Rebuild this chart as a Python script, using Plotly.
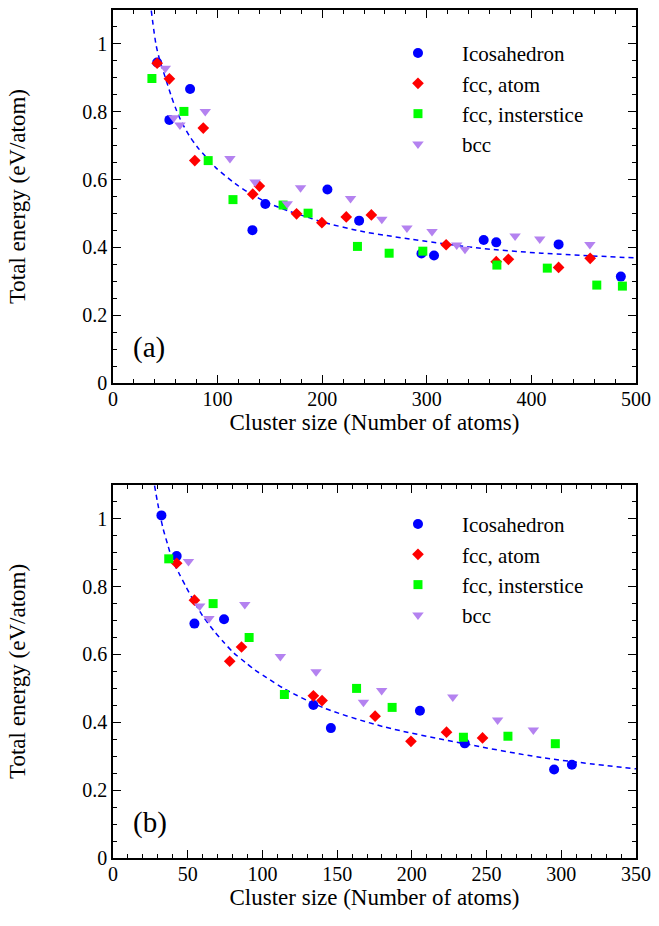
import plotly.graph_objects as go

# ---------------- Panel (a) data ----------------
a_ico_x = [42.2, 53.9, 73.7, 133.3, 145.6, 205.0, 235.3, 294.9, 306.9, 354.4, 366.4, 426.0, 485.5]
a_ico_y = [0.945, 0.776, 0.867, 0.451, 0.528, 0.571, 0.479, 0.382, 0.376, 0.422, 0.415, 0.409, 0.314]

a_fcc_x = [42.2, 53.9, 78.2, 86.3, 133.6, 139.9, 175.5, 199.7, 223.0, 247.0, 318.5, 366.4, 378.0, 426.0, 456.2]
a_fcc_y = [0.943, 0.897, 0.656, 0.752, 0.557, 0.581, 0.499, 0.473, 0.490, 0.496, 0.408, 0.358, 0.365, 0.341, 0.368]

a_int_x = [37.2, 67.8, 91.0, 114.7, 162.6, 186.5, 233.7, 264.0, 296.2, 367.0, 415.2, 462.5, 487.0]
a_int_y = [0.898, 0.801, 0.656, 0.541, 0.525, 0.501, 0.403, 0.383, 0.389, 0.348, 0.339, 0.289, 0.286]

a_bcc_x = [50.0, 58.0, 64.0, 88.2, 111.8, 135.8, 166.6, 179.3, 227.1, 257.0, 281.0, 305.0, 328.6, 336.5, 384.4, 408.0, 455.9]
a_bcc_y = [0.928, 0.782, 0.761, 0.801, 0.662, 0.593, 0.529, 0.576, 0.544, 0.483, 0.457, 0.447, 0.407, 0.395, 0.434, 0.425, 0.409]

a_fit_x = [36.6, 41.3, 45.1, 50.1, 55.5, 60.2, 64.9, 72.8, 80.6, 87.9, 98.0, 116.9, 129.5, 148.4,
           167.3, 186.2, 200.0, 239.8, 261.8, 283.8, 346.9, 410.0, 500.0]
a_fit_y = [1.098, 0.995, 0.948, 0.900, 0.848, 0.808, 0.774, 0.730, 0.696, 0.670, 0.636, 0.588, 0.562, 0.531,
           0.508, 0.489, 0.475, 0.446, 0.435, 0.425, 0.399, 0.383, 0.369]

# ---------------- Panel (b) data ----------------
b_ico_x = [32.4, 42.6, 54.5, 74.3, 134.1, 145.8, 205.4, 235.4, 295.2, 307.1]
b_ico_y = [1.010, 0.890, 0.691, 0.704, 0.451, 0.383, 0.434, 0.338, 0.261, 0.275]

b_fcc_x = [42.6, 54.5, 78.1, 86.0, 134.1, 139.9, 175.4, 199.4, 223.2, 247.3]
b_fcc_y = [0.869, 0.760, 0.580, 0.622, 0.478, 0.464, 0.418, 0.344, 0.371, 0.354]

b_int_x = [37.3, 67.0, 91.1, 114.7, 163.0, 186.8, 234.5, 264.3, 296.0]
b_int_y = [0.882, 0.750, 0.650, 0.482, 0.500, 0.444, 0.356, 0.359, 0.337]

b_bcc_x = [50.5, 58.0, 64.2, 88.2, 112.0, 135.9, 167.6, 179.8, 227.4, 257.4, 281.3]
b_bcc_y = [0.874, 0.743, 0.706, 0.747, 0.594, 0.549, 0.459, 0.494, 0.475, 0.407, 0.377]

b_fit_x = [27.8, 30.0, 33.3, 36.6, 39.9, 44.3, 48.8, 53.1, 59.8, 67.5, 74.1, 80.7, 88.5, 95.1, 102.8,
           115.0, 141.4, 181.1, 231.8, 287.0, 350.0]
b_fit_y = [1.098, 1.044, 0.975, 0.924, 0.877, 0.838, 0.800, 0.765, 0.715, 0.670, 0.636, 0.605, 0.577, 0.554, 0.532,
           0.498, 0.442, 0.387, 0.340, 0.296, 0.263]

names = ["Icosahedron", "fcc, atom", "fcc, insterstice", "bcc"]
colors = ["#0000ff", "#ff0000", "#00ff00", "#b482f0"]
symbols = ["circle", "diamond", "square", "triangle-down"]
sizes = [10, 9, 9, 10]

x_title = "Cluster size (Number of atoms)"
y_title = "Total energy (eV/atom)"

FONT = "Liberation Serif"

fig = go.Figure()

panels = [
    ("x", "y", "legend", [(a_ico_x, a_ico_y), (a_fcc_x, a_fcc_y), (a_int_x, a_int_y), (a_bcc_x, a_bcc_y)], (a_fit_x, a_fit_y)),
    ("x2", "y2", "legend2", [(b_ico_x, b_ico_y), (b_fcc_x, b_fcc_y), (b_int_x, b_int_y), (b_bcc_x, b_bcc_y)], (b_fit_x, b_fit_y)),
]

for xa, ya, leg, series, fit in panels:
    fig.add_trace(go.Scatter(x=fit[0], y=fit[1], mode="lines", xaxis=xa, yaxis=ya,
                             line=dict(color="#0000ff", width=1.5, dash="5px,4px", shape="spline", smoothing=0.8),
                             showlegend=False, hoverinfo="skip"))
    for i, (sx, sy) in enumerate(series):
        fig.add_trace(go.Scatter(x=sx, y=sy, mode="markers", name=names[i], xaxis=xa, yaxis=ya,
                                 legend=leg, legendgroup=f"{leg}{i}",
                                 marker=dict(color=colors[i], symbol=symbols[i], size=sizes[i],
                                             line=dict(width=0))))

common_axis = dict(showline=True, linecolor="black", linewidth=1.5, mirror="ticks",
                   ticks="inside", ticklen=8, tickwidth=1.2, tickcolor="black",
                   showgrid=False, zeroline=False, ticklabeloverflow="allow",
                   tickfont=dict(family=FONT, size=20, color="black"))

TITLE_FONT = dict(family=FONT, size=23, color="black")

fig.update_layout(
    width=659, height=926,
    margin=dict(l=113, r=17, t=8, b=68),
    plot_bgcolor="white", paper_bgcolor="white",
    font=dict(family=FONT, size=20, color="black"),
    xaxis=dict(domain=[0, 1], anchor="y", range=[0, 500], dtick=100, ticklabelstandoff=-3,
               minor=dict(dtick=20, ticks="inside", ticklen=4, tickcolor="black"),
               title=dict(text=x_title, font=TITLE_FONT, standoff=0),
               **common_axis),
    yaxis=dict(domain=[0.56, 1], anchor="x", range=[0, 1.1], dtick=0.2,
               minor=dict(dtick=0.05, ticks="inside", ticklen=4, tickcolor="black"),
               title=dict(text=y_title, font=TITLE_FONT, standoff=50),
               **common_axis),
    xaxis2=dict(domain=[0, 1], anchor="y2", range=[0, 350], dtick=50, ticklabelstandoff=-3,
                minor=dict(dtick=10, ticks="inside", ticklen=4, tickcolor="black"),
                title=dict(text=x_title, font=TITLE_FONT, standoff=0),
                **common_axis),
    yaxis2=dict(domain=[0, 0.44], anchor="x2", range=[0, 1.1], dtick=0.2,
                minor=dict(dtick=0.05, ticks="inside", ticklen=4, tickcolor="black"),
                title=dict(text=y_title, font=TITLE_FONT, standoff=50),
                **common_axis),
    legend=dict(x=0.499, y=0.973, xanchor="left", yanchor="top", bgcolor="rgba(0,0,0,0)",
                font=dict(family=FONT, size=21), tracegroupgap=0, itemwidth=78),
    legend2=dict(x=0.499, y=0.4176, xanchor="left", yanchor="top", bgcolor="rgba(0,0,0,0)",
                 font=dict(family=FONT, size=21), tracegroupgap=0, itemwidth=78),
    annotations=[
        dict(text="(a)", xref="paper", yref="paper", x=0.035, y=0.6015, xanchor="left", yanchor="middle",
             showarrow=False, font=dict(family=FONT, size=29)),
        dict(text="(b)", xref="paper", yref="paper", x=0.035, y=0.0415, xanchor="left", yanchor="middle",
             showarrow=False, font=dict(family=FONT, size=29)),
    ],
)

fig.write_html("out.html", config={"displayModeBar": False},
               post_script="document.body.style.margin='0';")
